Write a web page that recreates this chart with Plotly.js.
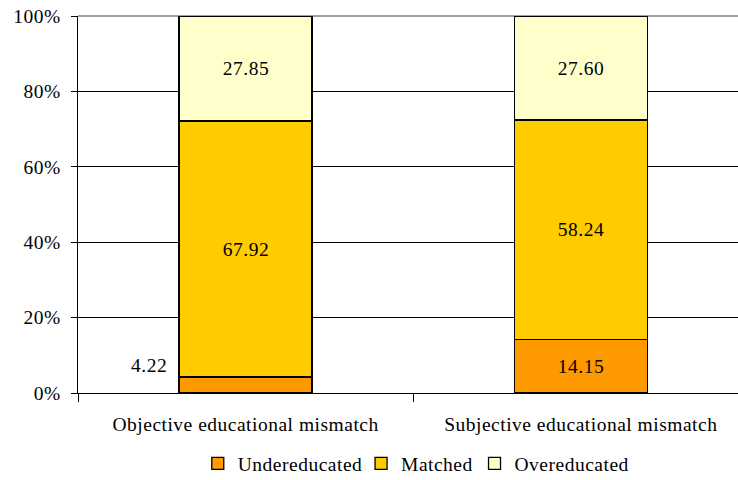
<!DOCTYPE html>
<html>
<head>
<meta charset="utf-8">
<script src="https://cdn.plot.ly/plotly-3.0.1.min.js"></script>
<style>
html,body{margin:0;padding:0;background:#fff;}
#chart{width:738px;height:480px;}
#chart svg text{letter-spacing:0.5px;}
</style>
</head>
<body>
<div id="chart"></div>
<script>
var categories = ["Objective educational mismatch", "Subjective educational mismatch"];
var undereducated = [4.22, 14.15];
var matched = [67.92, 58.24];
var overeducated = [27.85, 27.60];
var seriesNames = ["Undereducated", "Matched", "Overeducated"];
var yTickVals = [0, 20, 40, 60, 80, 100];
var yTickText = ["0%", "20%", "40%", "60%", "80%", "100%"];

var colors = ["#FF9900", "#FFCC00", "#FFFFCC"];
var series = [undereducated, matched, overeducated];
var FONT = "Liberation Serif, Times New Roman, serif";
var FS = 19.5;

var traces = series.map(function (vals, i) {
  return {
    type: "bar",
    name: seriesNames[i],
    x: categories,
    y: vals,
    width: 0.397,
    marker: { color: colors[i], line: { color: "#000", width: 1.3 } },
    hoverinfo: "none"
  };
});

var annotations = [];
categories.forEach(function (cat, ci) {
  var base = 0;
  series.forEach(function (vals, si) {
    var v = vals[ci];
    var a = {
      x: cat, y: base + v / 2, xref: "x", yref: "y",
      text: v.toFixed(2), showarrow: false,
      font: { family: FONT, size: FS, color: "#000" }
    };
    if (v < 8) {
      a.xanchor = "right";
      a.xshift = -78;
      a.y = base + v;
      a.yshift = 12;
    }
    annotations.push(a);
    base += v;
  });
});

var layout = {
  width: 738, height: 480,
  margin: { l: 78, r: 0, t: 16, b: 87 },
  paper_bgcolor: "#fff", plot_bgcolor: "#fff",
  barmode: "stack",
  showlegend: true,
  legend: {
    orientation: "h", xref: "container", x: 0.56, xanchor: "center",
    yref: "container", y: 0.034, yanchor: "middle",
    font: { family: FONT, size: FS, color: "#000" },
    traceorder: "normal", itemwidth: 30, tracegroupgap: 0
  },
  xaxis: {
    type: "category",
    range: [-0.5, 1.469],
    tickson: "boundaries",
    automargin: false,
    ticks: "outside", ticklen: 8, tickcolor: "#000", tickwidth: 1,
    showline: true, linecolor: "#000", linewidth: 1.3,
    showgrid: false,
    ticklabelstandoff: 13,
    tickfont: { family: FONT, size: FS, color: "#000" }
  },
  yaxis: {
    range: [0, 100],
    automargin: false,
    tickvals: yTickVals, ticktext: yTickText,
    ticks: "outside", ticklen: 6, tickcolor: "#000",
    showline: true, linecolor: "#000", linewidth: 1.3,
    showgrid: true, gridcolor: "#000", gridwidth: 1,
    zeroline: false,
    ticklabelstandoff: 6,
    tickfont: { family: FONT, size: FS, color: "#000" }
  },
  shapes: [{
    type: "line", xref: "paper", yref: "paper", x0: 0, x1: 1, y0: 1, y1: 1,
    line: { color: "#808080", width: 1.5 }, layer: "below"
  }],
  annotations: annotations
};

Plotly.newPlot("chart", traces, layout, { displayModeBar: false, staticPlot: true });
</script>
</body>
</html>
